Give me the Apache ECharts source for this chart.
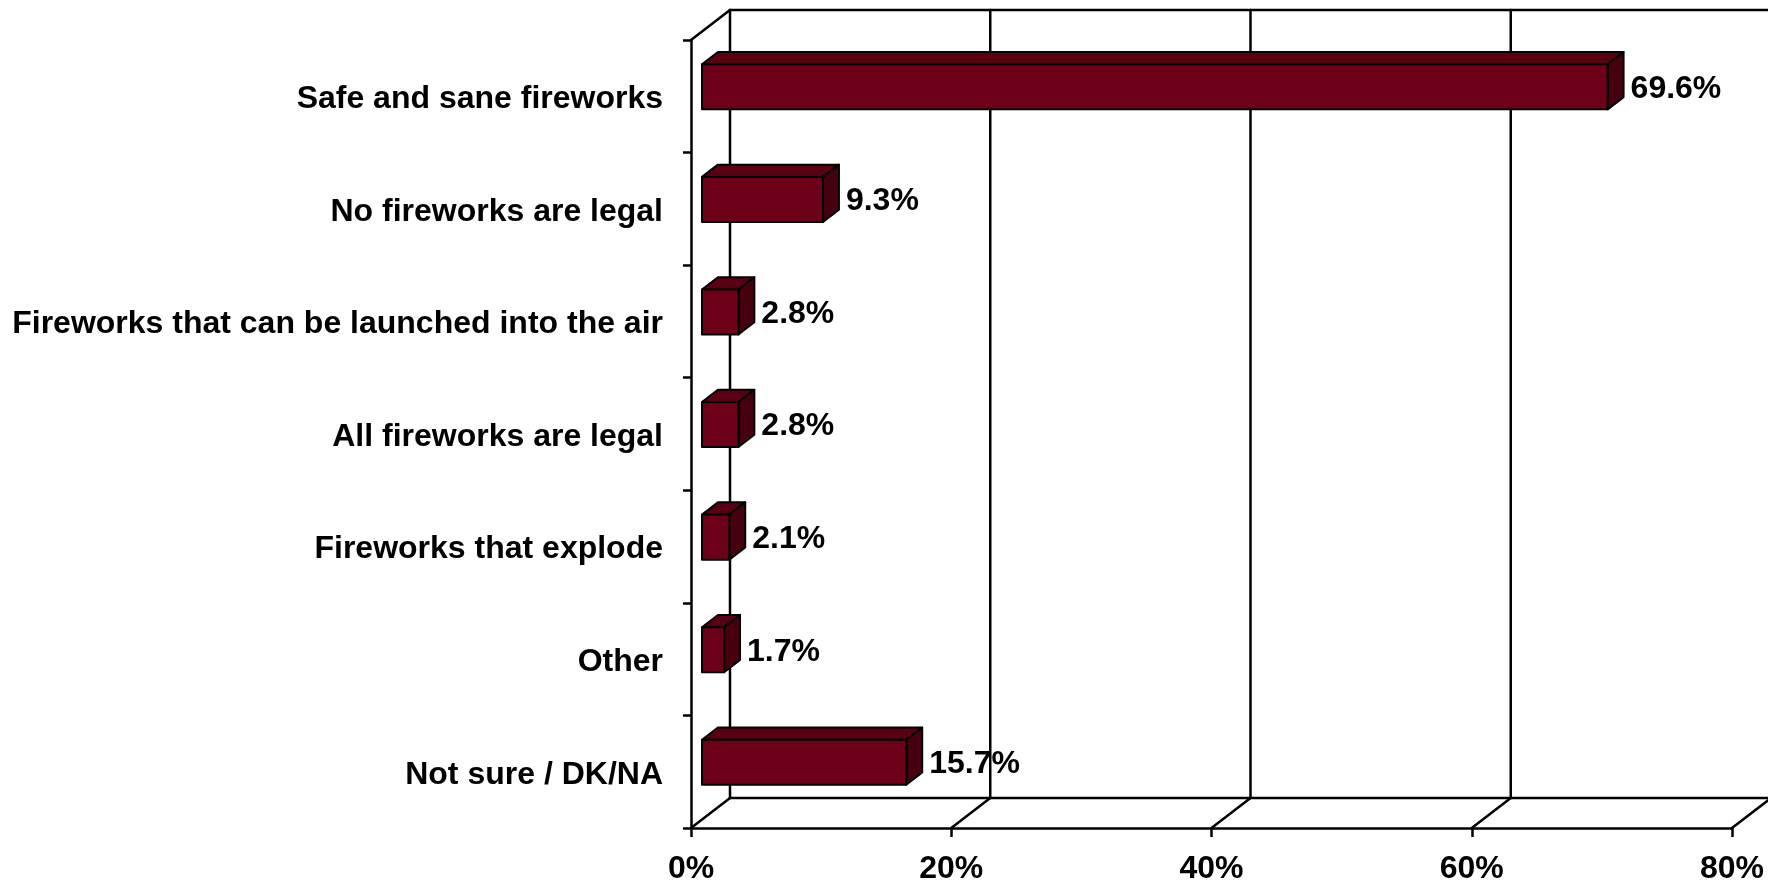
<!DOCTYPE html>
<html>
<head>
<meta charset="utf-8">
<script src="https://cdn.jsdelivr.net/npm/echarts@6/dist/echarts.min.js"></script>
<style>html,body{margin:0;padding:0;background:#fff}#c{width:1768px;height:882px}</style>
</head>
<body>
<div id="c"></div>
<script>
const categories = [
  'Safe and sane fireworks',
  'No fireworks are legal',
  'Fireworks that can be launched into the air',
  'All fireworks are legal',
  'Fireworks that explode',
  'Other',
  'Not sure / DK/NA'
];
const values = [69.6, 9.3, 2.8, 2.8, 2.1, 1.7, 15.7];
const xTicks = [0, 20, 40, 60, 80];

const DX = 39, DY = -30;      // depth of the 3D frame
const F0 = 0.282, F1 = 0.69;  // bar depth position (fraction of frame depth)
const FONT = 'Liberation Sans, Arial, sans-serif';
const LINE = '#000';
const LW = 2.5;

const chart = echarts.init(document.getElementById('c'), null, {renderer: 'canvas'});

function frameItem(params, api) {
  const cs = params.coordSys;
  const L = cs.x, T = cs.y, B = cs.y + cs.height;
  const R = api.coord([80, 0])[0];
  const children = [];
  const line = (x1, y1, x2, y2) => children.push({
    type: 'line', shape: {x1, y1, x2, y2},
    style: {stroke: LINE, lineWidth: LW, lineCap: 'round'}
  });
  line(L, T, L + DX, T + DY);
  line(L + DX, T + DY, L + DX, B + DY);
  line(L + DX, T + DY, R + DX + 20, T + DY);
  line(L + DX, B + DY, R + DX, B + DY);
  xTicks.forEach(v => {
    const x = api.coord([v, 0])[0];
    line(x, B, x + DX, B + DY);
    if (v > 0) line(x + DX, T + DY, x + DX, B + DY);
  });
  return {type: 'group', children};
}

function barItem(params, api) {
  const i = api.value(1);
  const v = api.value(0);
  const start = api.coord([0, i]);
  const end = api.coord([v, i]);
  const band = api.size([0, 1])[1];
  const h = band * 0.4;
  const x0 = start[0] + F0 * DX;
  const x1 = end[0] + F0 * DX;
  const cy = start[1] + F0 * DY - 1;
  const y0 = cy - h / 2, y1 = cy + h / 2;
  const ddx = (F1 - F0) * DX, ddy = (F1 - F0) * DY;
  const st = (fill) => ({fill, stroke: '#000', lineWidth: 2, lineJoin: 'round'});
  return {
    type: 'group',
    children: [
      {type: 'polygon', shape: {points: [[x0, y0], [x0 + ddx, y0 + ddy], [x1 + ddx, y0 + ddy], [x1, y0]]}, style: st('#590013')},
      {type: 'polygon', shape: {points: [[x1, y0], [x1 + ddx, y0 + ddy], [x1 + ddx, y1 + ddy], [x1, y1]]}, style: st('#46000E')},
      {type: 'polygon', shape: {points: [[x0, y0], [x1, y0], [x1, y1], [x0, y1]]}, style: st('#6D0019')},
      {type: 'text', x: x1 + ddx + 7, y: cy + 2,
        style: {text: v.toFixed(1) + '%', fontSize: 32, fontWeight: 'bold', fontFamily: FONT,
          fill: '#000', verticalAlign: 'middle', align: 'left'}}
    ]
  };
}

chart.setOption({
  animation: false,
  backgroundColor: '#fff',
  grid: {left: 691, top: 40, width: 1041, height: 788, containLabel: false, outerBoundsMode: 'none'},
  xAxis: {
    type: 'value', min: 0, max: 80, interval: 20,
    axisLine: {show: true, lineStyle: {color: LINE, width: LW}},
    axisTick: {show: true, inside: false, length: 9, lineStyle: {color: LINE, width: LW}},
    splitLine: {show: false},
    axisLabel: {formatter: '{value}%', fontSize: 32, fontWeight: 'bold', fontFamily: FONT, color: '#000', margin: 25,
      hideOverlap: false}
  },
  yAxis: {
    type: 'category', data: categories, inverse: true,
    axisLine: {show: true, lineStyle: {color: LINE, width: LW}},
    axisTick: {show: true, inside: false, length: 8, alignWithLabel: false, lineStyle: {color: LINE, width: LW}},
    splitLine: {show: false},
    axisLabel: {fontSize: 32, fontWeight: 'bold', fontFamily: FONT, color: '#000', margin: 28,
      verticalAlign: 'top', lineHeight: 6}
  },
  series: [
    {type: 'custom', data: [[0, 0]], renderItem: frameItem, clip: false, silent: true, z: 1},
    {type: 'custom', data: values.map((v, i) => [v, i]), encode: {x: 0, y: 1}, renderItem: barItem, clip: false, z: 3}
  ]
});
</script>
</body>
</html>
